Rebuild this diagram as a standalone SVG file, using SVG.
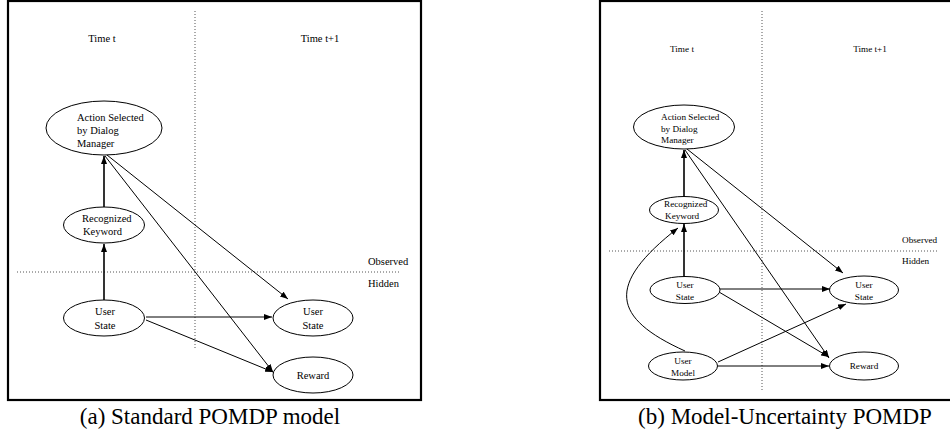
<svg xmlns="http://www.w3.org/2000/svg" width="950" height="437" viewBox="0 0 950 437">
<style>
.frame{fill:#fff;stroke:#000;stroke-width:2.2}
.node ellipse{fill:#fff;stroke:#000;stroke-width:1}
.ta{font-family:"Liberation Serif",serif;font-size:10.5px;fill:#000}
.tb{font-family:"Liberation Serif",serif;font-size:9.2px;fill:#000}
.cap{font-family:"Liberation Serif",serif;font-size:23px;fill:#000;text-anchor:middle}
.dot{stroke:#555;stroke-width:1;stroke-dasharray:1,2;fill:none}
.edge{stroke:#000;stroke-width:1;fill:none;marker-end:url(#arr)}
.edgeb{stroke:#000;stroke-width:1.6;fill:none;marker-end:url(#arr)}
.c{text-anchor:middle}
</style>
<defs>
<marker id="arr" viewBox="0 0 8 6" refX="8" refY="3" markerWidth="8" markerHeight="6" markerUnits="userSpaceOnUse" orient="auto">
<path d="M0,0 L8,3 L0,6 z" fill="#000"/>
</marker>
</defs>
<rect width="950" height="437" fill="#fff"/>

<!-- Panel (a) -->
<g id="panel-a">
<rect class="frame" x="8" y="1" width="413" height="399"/>
<line class="dot" x1="195" y1="11" x2="195" y2="350"/>
<line class="dot" x1="17" y1="272" x2="400" y2="272"/>
<text class="ta c" x="102" y="42">Time t</text>
<text class="ta c" x="320" y="42">Time t+1</text>
<text class="ta" x="368" y="265">Observed</text>
<text class="ta" x="368" y="287">Hidden</text>
</g>
<g id="edges-a">
<line class="edgeb" x1="104" y1="207" x2="104" y2="156"/>
<line class="edgeb" x1="104" y1="300" x2="104" y2="244"/>
<line class="edge" x1="107" y1="155" x2="288" y2="299"/>
<line class="edge" x1="105" y1="156" x2="273" y2="372"/>
<line class="edge" x1="146" y1="317" x2="272" y2="317"/>
<line class="edge" x1="146" y1="320" x2="273" y2="372"/>
</g>
<g id="a-action" class="node">
<ellipse cx="104" cy="128" rx="58" ry="27"/>
<text class="ta" x="77" y="121">Action Selected</text>
<text class="ta" x="77" y="134">by Dialog</text>
<text class="ta" x="77" y="147">Manager</text>
</g>
<g id="a-keyword" class="node">
<ellipse cx="104" cy="225" rx="40.5" ry="18"/>
<text class="ta" x="82" y="222">Recognized</text>
<text class="ta" x="83" y="235">Keyword</text>
</g>
<g id="a-userstate-t" class="node">
<ellipse cx="104" cy="318" rx="40.5" ry="18"/>
<text class="ta c" x="105" y="315">User</text>
<text class="ta c" x="105" y="329">State</text>
</g>
<g id="a-userstate-t1" class="node">
<ellipse cx="313" cy="318" rx="40" ry="18"/>
<text class="ta c" x="313" y="315">User</text>
<text class="ta c" x="313" y="329">State</text>
</g>
<g id="a-reward" class="node">
<ellipse cx="313" cy="375" rx="40" ry="18"/>
<text class="ta c" x="313" y="379">Reward</text>
</g>
<text class="cap" x="210" y="424">(a) Standard POMDP model</text>

<!-- Panel (b) -->
<g id="panel-b">
<rect class="frame" x="600" y="1" width="352" height="399"/>
<line class="dot" x1="762" y1="11" x2="762" y2="390"/>
<line class="dot" x1="609" y1="251" x2="938" y2="251"/>
<text class="tb c" x="682" y="52">Time t</text>
<text class="tb c" x="870" y="52">Time t+1</text>
<text class="tb" x="902" y="243">Observed</text>
<text class="tb" x="902" y="264">Hidden</text>
</g>
<g id="edges-b">
<line class="edgeb" x1="684" y1="197" x2="684" y2="150"/>
<line class="edgeb" x1="684" y1="277" x2="684" y2="224"/>
<line class="edge" x1="687" y1="149" x2="843" y2="273"/>
<line class="edge" x1="685" y1="150" x2="829" y2="358"/>
<line class="edge" x1="720" y1="289" x2="830" y2="289"/>
<line class="edge" x1="719" y1="292" x2="829" y2="357"/>
<line class="edge" x1="718" y1="362" x2="846" y2="304"/>
<line class="edge" x1="718" y1="366" x2="829" y2="366"/>
<path class="edge" d="M685,351 C612,318 605,285 678,228"/>
</g>
<g id="b-action" class="node">
<ellipse cx="684" cy="127" rx="50.5" ry="22"/>
<text class="tb" x="661" y="120">Action Selected</text>
<text class="tb" x="661" y="132">by Dialog</text>
<text class="tb" x="661" y="143">Manager</text>
</g>
<g id="b-keyword" class="node">
<ellipse cx="684" cy="210" rx="34.5" ry="13.5"/>
<text class="tb" x="664" y="207">Recognized</text>
<text class="tb" x="665" y="219">Keyword</text>
</g>
<g id="b-userstate-t" class="node">
<ellipse cx="685" cy="290" rx="35" ry="13.5"/>
<text class="tb c" x="685" y="288">User</text>
<text class="tb c" x="685" y="300">State</text>
</g>
<g id="b-userstate-t1" class="node">
<ellipse cx="864" cy="290" rx="34.5" ry="14"/>
<text class="tb c" x="864" y="288">User</text>
<text class="tb c" x="864" y="300">State</text>
</g>
<g id="b-reward" class="node">
<ellipse cx="864" cy="366" rx="34.5" ry="14"/>
<text class="tb c" x="864" y="369">Reward</text>
</g>
<g id="b-usermodel" class="node">
<ellipse cx="683" cy="366" rx="34.5" ry="14"/>
<text class="tb c" x="683" y="364">User</text>
<text class="tb c" x="683" y="376">Model</text>
</g>
<text class="cap" x="785" y="424">(b) Model-Uncertainty POMDP</text>
</svg>
